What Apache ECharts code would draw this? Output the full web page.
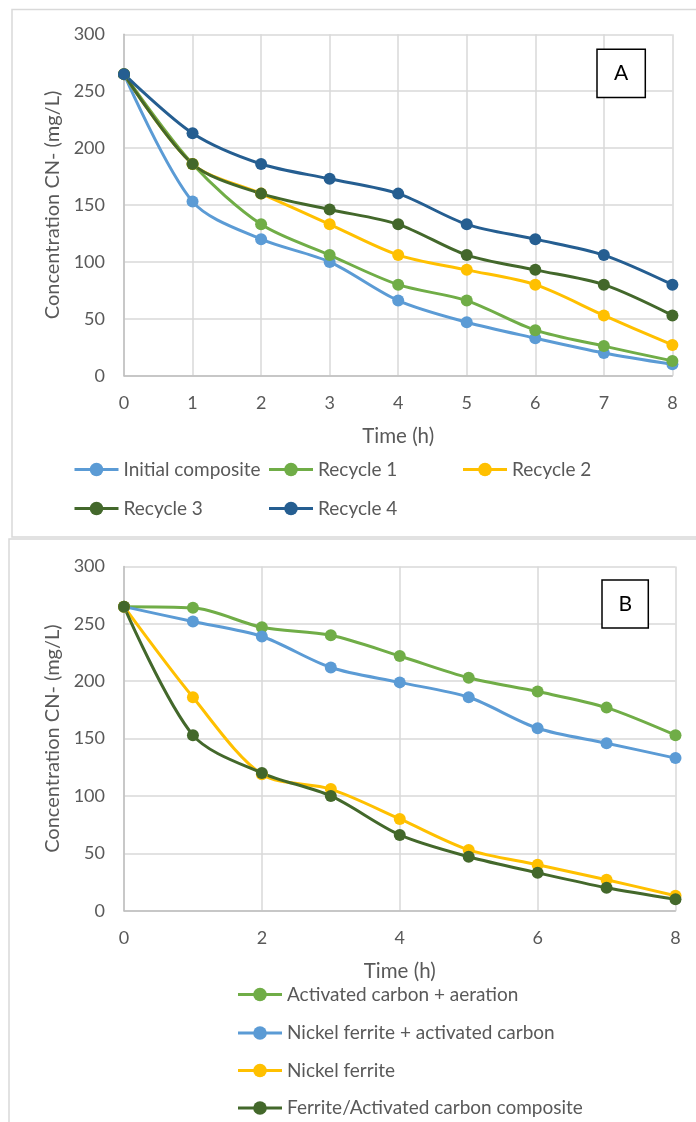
<!DOCTYPE html>
<html>
<head>
<meta charset="utf-8">
<script src="https://cdn.jsdelivr.net/npm/echarts@6/dist/echarts.min.js"></script>
<style>
html,body{margin:0;padding:0;background:#fff;}
#chart{width:696px;height:1122px;}
</style>
</head>
<body>
<div id="chart"></div>
<script>
// ---------- Data ----------
const timeHours = [0, 1, 2, 3, 4, 5, 6, 7, 8];
const yTicks = [0, 50, 100, 150, 200, 250, 300];

// Panel A
const namesA = ['Initial composite', 'Recycle 1', 'Recycle 2', 'Recycle 3', 'Recycle 4'];
const initialComposite = [265, 153, 120, 100, 66, 47, 33, 20, 10];
const recycle1 = [265, 186, 133, 106, 80, 66, 40, 26, 13];
const recycle2 = [265, 186, 160, 133, 106, 93, 80, 53, 27];
const recycle3 = [265, 186, 160, 146, 133, 106, 93, 80, 53];
const recycle4 = [265, 213, 186, 173, 160, 133, 120, 106, 80];

// Panel B
const namesB = ['Activated carbon + aeration', 'Nickel ferrite + activated carbon', 'Nickel ferrite', 'Ferrite/Activated carbon composite'];
const activatedCarbonAeration = [265, 264, 247, 240, 222, 203, 191, 177, 153];
const nickelFerriteActivatedCarbon = [265, 252, 239, 212, 199, 186, 159, 146, 133];
const nickelFerrite = [265, 186, 119, 106, 80, 53, 40, 27, 13];
const ferriteActivatedCarbonComposite = [265, 153, 120, 100, 66, 47, 33, 20, 10];

// ---------- Styles ----------
const FONT = 'Lato, "Noto Sans", sans-serif';
const TXT = '#595959';
const colorsA = ['#5B9BD5', '#70AD47', '#FFC000', '#43682B', '#255E91'];
const colorsB = ['#70AD47', '#5B9BD5', '#FFC000', '#43682B'];
const valuesA = [initialComposite, recycle1, recycle2, recycle3, recycle4];
const valuesB = [activatedCarbonAeration, nickelFerriteActivatedCarbon, nickelFerrite, ferriteActivatedCarbonComposite];

function pairs(vals) { return timeHours.map((t, i) => [t, vals[i]]); }

function makeSeries(name, vals, color, idx) {
  return {
    name: name, type: 'line', xAxisIndex: idx, yAxisIndex: idx,
    data: pairs(vals), smooth: 0.3, symbol: 'circle', symbolSize: 12,
    showSymbol: true,
    lineStyle: { color: color, width: 3 },
    itemStyle: { color: color },
    emphasis: { disabled: true }
  };
}

function xAxis(idx, interval) {
  return {
    type: 'value', gridIndex: idx, min: 0, max: 8, interval: interval,
    name: 'Time (h)', nameLocation: 'middle', nameGap: 50,
    nameTextStyle: { color: TXT, fontSize: 20.5, fontFamily: FONT },
    axisLine: { show: true, lineStyle: { color: '#BFBFBF', width: 1.5 } },
    axisTick: { show: false },
    axisLabel: { color: TXT, fontSize: 18, fontFamily: FONT, margin: 18 },
    splitLine: { show: true, lineStyle: { color: '#D9D9D9', width: 1.5 } }
  };
}
function yAxis(idx) {
  return {
    type: 'value', gridIndex: idx, min: yTicks[0], max: yTicks[yTicks.length - 1], interval: yTicks[1] - yTicks[0],
    name: 'Concentration CN- (mg/L)', nameLocation: 'middle', nameGap: 59,
    nameTextStyle: { color: TXT, fontSize: 20, fontFamily: FONT },
    axisLine: { show: true, lineStyle: { color: '#BFBFBF', width: 1.5 } },
    axisTick: { show: false },
    axisLabel: { color: TXT, fontSize: 18, fontFamily: FONT, margin: 19 },
    splitLine: { show: true, lineStyle: { color: '#D9D9D9', width: 1.5 } }
  };
}

function legendItem(name, left, centerY) {
  return {
    data: [name], left: left, top: centerY - 10, padding: 0,
    itemWidth: 44, itemHeight: 17, itemGap: 0,
    lineStyle: { width: 3 },
    textStyle: { color: TXT, fontSize: 19, fontFamily: FONT, padding: [0, 0, 0, 0] },
    selectedMode: false
  };
}

const series = [];
namesA.forEach((n, i) => series.push(makeSeries(n, valuesA[i], colorsA[i], 0)));
namesB.forEach((n, i) => series.push(makeSeries(n, valuesB[i], colorsB[i], 1)));

const legendPosA = [[73, 470], [267.5, 470], [461.5, 470], [73, 509], [267.5, 509]];
const legendPosB = [[236.5, 995], [236.5, 1033.5], [236.5, 1071], [236.5, 1108.5]];
const legends = [];
namesA.forEach((n, i) => legends.push(legendItem(n, legendPosA[i][0], legendPosA[i][1])));
namesB.forEach((n, i) => legends.push(legendItem(n, legendPosB[i][0], legendPosB[i][1])));

const option = {
  animation: false,
  backgroundColor: '#ffffff',
  grid: [
    { left: 124, top: 34.3, width: 548.4, height: 341.4 },
    { left: 124, top: 566.5, width: 551.5, height: 344.2 }
  ],
  xAxis: [xAxis(0, 1), xAxis(1, 2)],
  yAxis: [yAxis(0), yAxis(1)],
  legend: legends,
  series: series,
  graphic: [
    { type: 'rect', z: -10, shape: { x: 12, y: 9.5, width: 720, height: 527.5 }, style: { fill: 'none', stroke: '#D9D9D9', lineWidth: 1.5 } },
    { type: 'rect', z: -10, shape: { x: 9, y: 539, width: 720, height: 620 }, style: { fill: 'none', stroke: '#D9D9D9', lineWidth: 1.5 } },
    { type: 'rect', z: 100, shape: { x: 597, y: 49.3, width: 48.3, height: 48.3 }, style: { fill: '#fff', stroke: '#000', lineWidth: 1.5 } },
    { type: 'text', z: 101, x: 621.2, y: 73.5, style: { text: 'A', fontSize: 21, fontFamily: FONT, fill: '#000', align: 'center', verticalAlign: 'middle' } },
    { type: 'rect', z: 100, shape: { x: 602, y: 580, width: 46.3, height: 48 }, style: { fill: '#fff', stroke: '#000', lineWidth: 1.5 } },
    { type: 'text', z: 101, x: 625.2, y: 604, style: { text: 'B', fontSize: 21, fontFamily: FONT, fill: '#000', align: 'center', verticalAlign: 'middle' } }
  ]
};

const chart = echarts.init(document.getElementById('chart'), null, { renderer: 'canvas' });
chart.setOption(option);
</script>
</body>
</html>
